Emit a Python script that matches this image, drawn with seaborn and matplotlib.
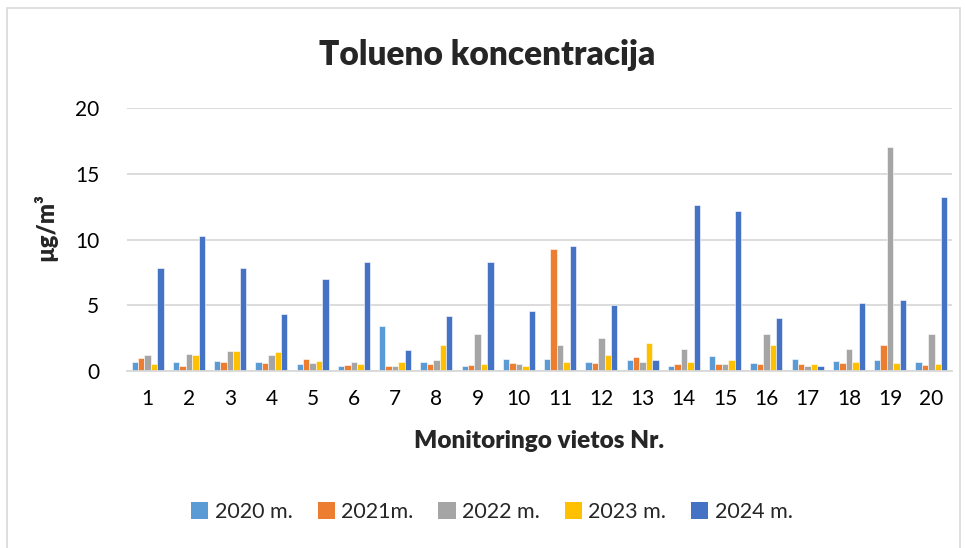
import matplotlib
matplotlib.use('Agg')
import matplotlib.pyplot as plt
import matplotlib.patches as mpatches
import numpy as np
import pandas as pd
import seaborn as sns

# values (ug/m3)
sites = [str(i) for i in range(1, 21)]
years = ["2020 m.", "2021m.", "2022 m.", "2023 m.", "2024 m."]
v2020 = [0.7, 0.7, 0.75, 0.65, 0.5, 0.4, 3.45, 0.65, 0.4, 0.95,
         0.9, 0.7, 0.8, 0.4, 1.15, 0.6, 0.95, 0.75, 0.85, 0.7]
v2021 = [1.0, 0.4, 0.65, 0.6, 0.9, 0.45, 0.4, 0.5, 0.45, 0.6,
         9.3, 0.6, 1.1, 0.5, 0.55, 0.5, 0.5, 0.6, 1.95, 0.45]
v2022 = [1.2, 1.3, 1.5, 1.2, 0.6, 0.65, 0.4, 0.8, 2.8, 0.55,
         2.0, 2.5, 0.7, 1.7, 0.55, 2.8, 0.4, 1.7, 17.0, 2.8]
v2023 = [0.5, 1.2, 1.55, 1.45, 0.75, 0.55, 0.7, 1.95, 0.55, 0.35,
         0.65, 1.2, 2.1, 0.65, 0.8, 1.95, 0.55, 0.65, 0.6, 0.55]
v2024 = [7.8, 10.3, 7.8, 4.3, 7.0, 8.3, 1.6, 4.2, 8.3, 4.6,
         9.5, 5.0, 0.8, 12.6, 12.2, 4.0, 0.4, 5.2, 5.4, 13.2]
colors = ["#5B9BD5", "#ED7D31", "#A5A5A5", "#FFC000", "#4472C4"]

rows = []
for year, vals in zip(years, [v2020, v2021, v2022, v2023, v2024]):
    for s, v in zip(sites, vals):
        rows.append({"site": s, "year": year, "value": v})
df = pd.DataFrame(rows)

sns.set_theme(style="white")
plt.rcParams['font.family'] = ['Lato', 'DejaVu Sans']

fig = plt.figure(figsize=(9.65, 5.48), dpi=100)
ax = fig.add_axes([127 / 965, 1 - 371 / 548, 825 / 965, 263 / 548])

sns.barplot(data=df, x="site", y="value", hue="year", palette=colors,
            width=0.78, gap=0, saturation=1, ax=ax, legend=False,
            edgecolor="white", linewidth=0.4)

ax.set_ylim(0, 20)
ax.set_yticks([0, 5, 10, 15, 20])
ax.yaxis.grid(True, color="#D9D9D9", linewidth=1.3)
ax.set_axisbelow(True)
for side in ["top", "right", "left"]:
    ax.spines[side].set_visible(False)
ax.spines["bottom"].set_color("#D9D9D9")
ax.spines["bottom"].set_linewidth(1.3)
ax.tick_params(axis="both", length=0, labelsize=15, colors="black")
ax.tick_params(axis="x", pad=13)
ax.tick_params(axis="y", pad=20)

ax.set_xlabel("Monitoringo vietos Nr.", fontsize=17.5, fontweight="heavy", labelpad=15)
ax.set_ylabel("µg/m³", fontsize=17, fontweight="heavy")
ax.yaxis.set_label_coords(-0.084, 0.548)

fig.text(487 / 965, 1 - 55 / 548, "Tolueno koncentracija", ha="center", va="center",
         fontsize=24, fontweight="heavy")

# legend with plain colour squares
handles = [mpatches.Patch(facecolor=c, edgecolor="none", linewidth=0) for c in colors]
fig.legend(handles, years, loc="center", bbox_to_anchor=(492 / 965, 1 - 512 / 548),
           ncol=5, frameon=False, fontsize=15.5, handlelength=0.8, handleheight=0.8,
           handletextpad=0.3, columnspacing=1.15)

fig.patches.append(mpatches.Rectangle((7 / 965, -0.01), 953 / 965, 1 - 8 / 548 + 0.01,
                                      transform=fig.transFigure, fill=False,
                                      edgecolor="#D9D9D9", linewidth=1.2))

fig.savefig("out.png", dpi=100)
